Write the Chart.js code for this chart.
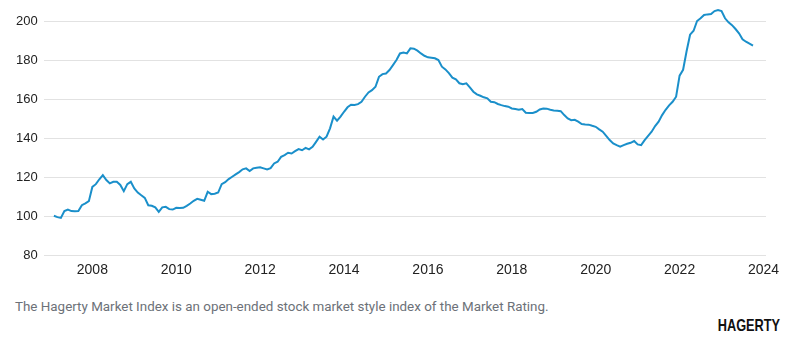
<!DOCTYPE html>
<html>
<head>
<meta charset="utf-8">
<script src="https://cdn.jsdelivr.net/npm/chart.js@4"></script>
<style>
  body { margin: 0; background: #fff; }
  #wrap { position: relative; width: 800px; height: 350px; }
  #caption {
    position: absolute; left: 15px; top: 299px;
    font: 13.4px "Roboto", "Liberation Sans", sans-serif;
    color: #6c7178; white-space: nowrap;
  }
  #logo {
    position: absolute; right: 20px; top: 316px;
    font: bold 17px "Liberation Sans", sans-serif;
    color: #111;
    transform: scaleX(0.75); transform-origin: right center;
  }
</style>
</head>
<body>
<div id="wrap">
  <canvas id="chart" width="800" height="290"></canvas>
  <div id="caption">The Hagerty Market Index is an open-ended stock market style index of the Market Rating.</div>
  <div id="logo">HAGERTY</div>
</div>
<script>
// monthly index values, first month = Feb 2007
var startYear = 2007;
var startMonth = 2;
var indexValues = [
  100.2, 99.5, 99.1, 102.6, 103.4, 102.6, 102.5, 102.6, 105.6, 106.6, 107.7, 115,
  116.4, 118.9, 121, 118.5, 116.8, 117.6, 117.6, 116, 112.8, 116.4, 117.6, 114.2,
  112.1, 110.7, 109.4, 105.6, 105.3, 104.5, 102.2, 104.5, 104.8, 103.6, 103.4, 104.3,
  104.2, 104.3, 105.3, 106.5, 107.9, 108.9, 108.4, 107.9, 112.5, 111.3, 111.5, 112.1,
  116.4, 117.4, 119, 120.2, 121.4, 122.6, 124, 124.5, 123.1, 124.5, 124.8, 125.1,
  124.5, 123.9, 124.6, 127, 127.9, 130.4, 131.3, 132.5, 132.1, 133.3, 134.4, 133.8,
  135, 134.2, 135.5, 138.1, 140.7, 139.3, 140.7, 145, 151, 148.9, 151, 153.5,
  155.8, 157.1, 157, 157.4, 158.6, 161.2, 163.4, 164.6, 166.3, 171.4, 172.8, 173.1,
  174.9, 177.4, 180, 183.4, 183.9, 183.4, 186, 185.8, 184.8, 183.4, 182.2, 181.4,
  181.2, 180.9, 180, 176.6, 175.2, 173.3, 171, 170.1, 168.1, 167.6, 168.1, 166,
  163.8, 162.4, 161.7, 160.9, 160.4, 158.6, 158.4, 157.5, 156.9, 156.4, 156.1, 155.2,
  154.9, 154.5, 154.9, 153, 152.9, 152.9, 153.5, 154.7, 155.2, 155.1, 154.5, 154.2,
  154, 153.8, 151.8, 150.1, 149.2, 149.4, 148.4, 147.2, 147, 146.9, 146.3, 145.8,
  144.5, 143.3, 141.2, 139, 137.3, 136.4, 135.6, 136.4, 137.1, 137.6, 138.5, 136.8,
  136.4, 139, 141.2, 143.3, 146.2, 148.4, 151.8, 154.5, 156.8, 158.6, 161.2, 172,
  175, 184.5, 193, 195, 200, 201.4, 203.1, 203.4, 203.6, 205.1, 205.6, 205.1,
  201.4, 199.3, 197.9, 195.9, 193.7, 190.6, 189.4, 188.4, 187.4
];
var yearTicks = [2008, 2010, 2012, 2014, 2016, 2018, 2020, 2022, 2024];
var valueTicks = [80, 100, 120, 140, 160, 180, 200];

var points = indexValues.map(function (v, i) {
  return { x: startYear + (startMonth - 1 + i) / 12, y: v };
});

var ctx = document.getElementById('chart').getContext('2d');
var chart = new Chart(ctx, {
  type: 'line',
  data: {
    datasets: [{
      label: 'Hagerty Market Index',
      data: points,
      borderColor: '#1a8fca',
      borderWidth: 2,
      pointRadius: 0,
      tension: 0,
      fill: false,
      clip: false
    }]
  },
  options: {
    responsive: false,
    animation: false,
    layout: { padding: { left: 10, right: 34, top: 0, bottom: 4 } },
    scales: {
      x: {
        type: 'linear',
        min: 2006.84,
        max: 2024.06,
        afterBuildTicks: function (axis) {
          axis.ticks = yearTicks.map(function (v) { return { value: v }; });
        },
        grid: { display: false, drawTicks: false },
        border: { display: false },
        ticks: {
          autoSkip: false,
          maxRotation: 0,
          padding: 7,
          color: '#222',
          font: { family: '"Liberation Sans", Arial, sans-serif', size: 14 },
          callback: function (v) { return String(v); }
        }
      },
      y: {
        min: 80,
        max: 203.7,
        afterBuildTicks: function (axis) {
          axis.ticks = valueTicks.map(function (v) { return { value: v }; });
        },
        grid: { color: '#e2e2e2', lineWidth: 1, drawTicks: false },
        border: { display: false },
        ticks: {
          padding: 6,
          color: '#222',
          font: { family: '"Liberation Sans", Arial, sans-serif', size: 13 },
          callback: function (v) { return String(v); }
        }
      }
    },
    plugins: {
      legend: { display: false },
      tooltip: { enabled: false }
    }
  }
});
</script>
</body>
</html>
